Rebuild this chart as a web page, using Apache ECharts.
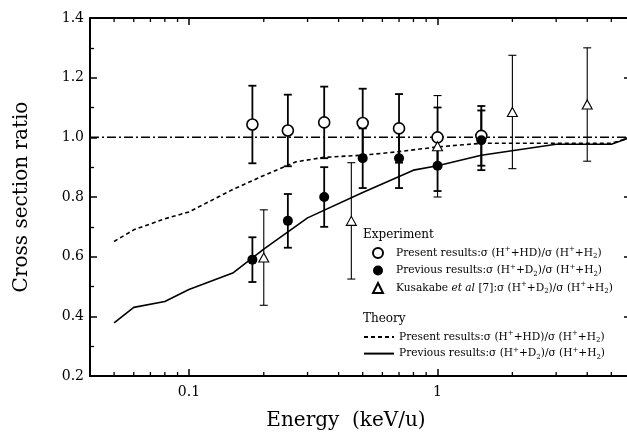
<!DOCTYPE html>
<html><head><meta charset="utf-8">
<script src="https://cdn.jsdelivr.net/npm/echarts@6/dist/echarts.min.js"></script>
<style>html,body{margin:0;padding:0;background:#fff}#c{width:627px;height:437px}</style>
</head><body><div id="c"></div>
<script>
// ---- data ----
const energyHD = [0.18, 0.25, 0.35, 0.5, 0.7, 1.0, 1.5];
const ratioHD  = [1.043, 1.023, 1.05, 1.048, 1.03, 1.0, 1.005];
const errHD    = [0.13, 0.12, 0.12, 0.115, 0.115, 0.1, 0.1];

const energyD2 = [0.18, 0.25, 0.35, 0.5, 0.7, 1.0, 1.5];
const ratioD2  = [0.59, 0.72, 0.80, 0.93, 0.93, 0.905, 0.99];
const errD2    = [0.075, 0.09, 0.1, 0.1, 0.1, 0.085, 0.1];

const energyKus = [0.2, 0.45, 1.0, 2.0, 4.0];
const ratioKus  = [0.597, 0.72, 0.97, 1.085, 1.11];
const errKus    = [0.16, 0.195, 0.17, 0.19, 0.19];

const theoryEnergyHD = [0.05, 0.06, 0.08, 0.1, 0.15, 0.2, 0.27, 0.35, 0.5, 0.7, 1.0, 1.5, 3, 5, 6];
const theoryHD       = [0.651, 0.69, 0.727, 0.75, 0.825, 0.872, 0.918, 0.933, 0.94, 0.952, 0.968, 0.98, 0.98, 0.98, 1.0];

const theoryEnergyD2 = [0.05, 0.06, 0.08, 0.1, 0.15, 0.2, 0.3, 0.5, 0.8, 1.0, 1.5, 3, 5, 6];
const theoryD2       = [0.378, 0.43, 0.45, 0.49, 0.545, 0.625, 0.73, 0.815, 0.89, 0.905, 0.94, 0.977, 0.977, 1.0];

const refEnergy = [0.04, 6];
const refRatio  = [1.0, 1.0];

const xMajorLabels = [0.1, 1];
const xMinorTicks = [0.05, 0.06, 0.07, 0.08, 0.09, 0.2, 0.3, 0.4, 0.5, 0.6, 0.7, 0.8, 0.9, 2, 3, 4, 5];

// ---- helpers ----
const pairs = (xs, ys) => xs.map((x, i) => [x, ys[i]]);
const bars = (xs, ys, es) => xs.map((x, i) => [x, ys[i] - es[i], ys[i] + es[i]]);

function errRender(capW, lw) {
  return function (params, api) {
    const x = api.value(0), lo = api.value(1), hi = api.value(2);
    const p1 = api.coord([x, lo]), p2 = api.coord([x, hi]);
    const h = capW / 2;
    const st = { stroke: '#000', lineWidth: lw };
    return { type: 'group', children: [
      { type: 'line', shape: { x1: p1[0], y1: p1[1], x2: p2[0], y2: p2[1] }, style: st },
      { type: 'line', shape: { x1: p1[0] - h, y1: p1[1], x2: p1[0] + h, y2: p1[1] }, style: st },
      { type: 'line', shape: { x1: p2[0] - h, y1: p2[1], x2: p2[0] + h, y2: p2[1] }, style: st }
    ]};
  };
}

function minorTickRender(params, api) {
  const v = api.value(0);
  const b = api.coord([v, 0.2]), t = api.coord([v, 1.4]);
  const st = { stroke: '#000', lineWidth: 1.3 };
  return { type: 'group', children: [
    { type: 'line', shape: { x1: b[0], y1: b[1], x2: b[0], y2: b[1] - 4 }, style: st },
    { type: 'line', shape: { x1: t[0], y1: t[1], x2: t[0], y2: t[1] + 4 }, style: st }
  ]};
}

const FONT = 'DejaVu Serif';
const FS = 10.6;
const richStyles = {
  sup: { fontSize: 7, verticalAlign: 'top', lineHeight: 14, fontFamily: FONT, color: '#000' },
  sub: { fontSize: 7, verticalAlign: 'bottom', lineHeight: 14, fontFamily: FONT, color: '#000' },
  it: { fontStyle: 'italic', fontSize: FS, lineHeight: 14, fontFamily: FONT, color: '#000' },
  pad: { width: 8 }
};
const legendLabels = {
  'Present results (exp)': '{pad|}Present results:σ (H{sup|+}+HD)/σ (H{sup|+}+H{sub|2})',
  'Previous results (exp)': '{pad|}Previous results:σ (H{sup|+}+D{sub|2})/σ (H{sup|+}+H{sub|2})',
  'Kusakabe': '{pad|}Kusakabe {it|et al} [7]:σ (H{sup|+}+D{sub|2})/σ (H{sup|+}+H{sub|2})',
  'Present results (theory)': 'Present results:σ (H{sup|+}+HD)/σ (H{sup|+}+H{sub|2})',
  'Previous results (theory)': 'Previous results:σ (H{sup|+}+D{sub|2})/σ (H{sup|+}+H{sub|2})'
};

const xAxisBase = {
  type: 'log', logBase: 10, min: 0.04, max: 6,
  axisLine: { lineStyle: { color: '#000', width: 2 } },
  axisTick: { inside: true, length: 7, lineStyle: { color: '#000', width: 1.5 } },
  splitLine: { show: false }
};
const yAxisBase = {
  type: 'value', min: 0.2, max: 1.4, interval: 0.2,
  axisLine: { show: true, lineStyle: { color: '#000', width: 2 } },
  axisTick: { show: true, inside: true, length: 7, lineStyle: { color: '#000', width: 1.5 } },
  minorTick: { show: true, splitNumber: 2, length: 4, lineStyle: { color: '#000', width: 1.3 } },
  splitLine: { show: false }
};

const chart = echarts.init(document.getElementById('c'), null, { renderer: 'canvas' });
chart.setOption({
  backgroundColor: '#fff',
  animation: false,
  grid: { left: 90, width: 541, top: 18, height: 358, containLabel: false, outerBoundsMode: 'none' },
  xAxis: [
    Object.assign({}, xAxisBase, {
      position: 'bottom',
      axisLabel: {
        margin: 9, color: '#000', fontFamily: FONT, fontSize: 14,
        showMinLabel: false, showMaxLabel: false,
        formatter: v => {
          const m = xMajorLabels.find(t => Math.abs(t - v) < 1e-9 * Math.max(1, t) + 1e-12);
          return m === undefined ? '' : String(m);
        }
      }
    }),
    Object.assign({}, xAxisBase, { position: 'top', axisLabel: { show: false } })
  ],
  yAxis: [
    Object.assign({}, yAxisBase, {
      position: 'left',
      axisLabel: { margin: 6, color: '#000', fontFamily: FONT, fontSize: 14, formatter: v => v.toFixed(1) }
    }),
    Object.assign({}, yAxisBase, { position: 'right', axisLabel: { show: false } })
  ],
  legend: [
    {
      orient: 'vertical', left: 372, top: 246, padding: 0, itemWidth: 10, itemHeight: 10, itemGap: 3.5,
      data: ['Present results (exp)', 'Previous results (exp)', 'Kusakabe'],
      formatter: n => legendLabels[n],
      textStyle: { fontFamily: FONT, fontSize: FS, color: '#000', lineHeight: 14, rich: richStyles },
      selectedMode: false
    },
    {
      orient: 'vertical', left: 363, top: 330, padding: 0, itemWidth: 30, itemHeight: 10, itemGap: 2.6,
      data: ['Present results (theory)', 'Previous results (theory)'],
      formatter: n => legendLabels[n],
      itemStyle: { opacity: 0 },
      textStyle: { fontFamily: FONT, fontSize: FS, color: '#000', lineHeight: 14, rich: richStyles },
      selectedMode: false
    }
  ],
  graphic: [
    { type: 'text', left: 363, top: 229, style: { text: 'Experiment', fontFamily: FONT, fontSize: 12, fill: '#000' } },
    { type: 'text', left: 363, top: 313, style: { text: 'Theory', fontFamily: FONT, fontSize: 12, fill: '#000' } },
    { type: 'text', x: 346, y: 421, style: { text: 'Energy  (keV/u)', fontFamily: FONT, fontSize: 20, fill: '#000', align: 'center', verticalAlign: 'middle' } },
    { type: 'text', x: 22, y: 197, rotation: Math.PI / 2, style: { text: 'Cross section ratio', fontFamily: FONT, fontSize: 20, fill: '#000', align: 'center', verticalAlign: 'middle' } }
  ],
  series: [
    { name: 'ref', type: 'line', data: pairs(refEnergy, refRatio), symbol: 'none', silent: true,
      lineStyle: { color: '#000', width: 1.5, type: [9, 3, 2, 3] }, z: 1 },
    { name: 'Present results (theory)', type: 'line', data: pairs(theoryEnergyHD, theoryHD), symbol: 'none', showSymbol: false,
      lineStyle: { color: '#000', width: 1.6, type: [4, 3] }, itemStyle: { color: '#000' }, z: 1 },
    { name: 'Previous results (theory)', type: 'line', data: pairs(theoryEnergyD2, theoryD2), symbol: 'none', showSymbol: false,
      lineStyle: { color: '#000', width: 1.6, type: 'solid' }, itemStyle: { color: '#000' }, z: 1 },
    { name: 'errHD', type: 'custom', renderItem: errRender(8, 1.8), data: bars(energyHD, ratioHD, errHD),
      encode: { x: 0, y: [1, 2] }, z: 2, silent: true },
    { name: 'errD2', type: 'custom', renderItem: errRender(8, 1.8), data: bars(energyD2, ratioD2, errD2),
      encode: { x: 0, y: [1, 2] }, z: 2, silent: true },
    { name: 'errKus', type: 'custom', renderItem: errRender(8, 1.1), data: bars(energyKus, ratioKus, errKus),
      encode: { x: 0, y: [1, 2] }, z: 2, silent: true },
    { name: 'xMinor', type: 'custom', renderItem: minorTickRender, data: xMinorTicks.map(v => [v, 0.2]),
      encode: { x: 0, y: 1 }, clip: false, silent: true, z: 5 },
    { name: 'Present results (exp)', type: 'scatter', data: pairs(energyHD, ratioHD), symbol: 'circle', symbolSize: 11,
      itemStyle: { color: '#fff', borderColor: '#000', borderWidth: 1.6, opacity: 1 }, z: 4 },
    { name: 'Previous results (exp)', type: 'scatter', data: pairs(energyD2, ratioD2), symbol: 'circle', symbolSize: 10,
      itemStyle: { color: '#000', borderColor: '#000', borderWidth: 0, opacity: 1 }, z: 4 },
    { name: 'Kusakabe', type: 'scatter', data: pairs(energyKus, ratioKus), symbol: 'triangle', symbolSize: [10, 9],
      itemStyle: { color: '#fff', borderColor: '#000', borderWidth: 1.1, opacity: 1 }, z: 4 }
  ]
});
</script>
</body></html>
